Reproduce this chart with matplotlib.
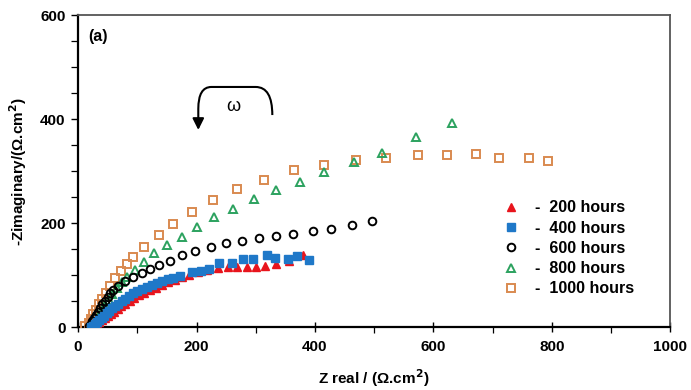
import matplotlib
matplotlib.use("Agg")
import matplotlib.pyplot as plt
from matplotlib.path import Path
from matplotlib.patches import PathPatch, FancyArrowPatch
from matplotlib.ticker import MultipleLocator

plt.rcParams['font.family'] = ['Liberation Sans', 'DejaVu Sans']
plt.rcParams['font.weight'] = 'bold'

# ---- data (Z real, -Z imaginary) in ohm.cm2 ----
x_200 = [20, 24, 28, 32, 36, 40, 45, 50, 55, 61, 67, 73, 80, 87, 95, 103, 112, 121, 131, 141,
         152, 163, 175, 188, 202, 218, 236, 253, 269, 285, 301, 316, 334, 357, 380]
y_200 = [0, 2, 4, 7, 10, 13, 17, 21, 25, 30, 35, 40, 45, 50, 56, 61, 66, 71, 76, 81,
         86, 91, 96, 101, 106, 110, 114, 116, 116, 116, 116, 118, 121, 128, 139]

x_400 = [22, 25, 28, 32, 36, 40, 44, 48, 53, 58, 63, 68, 74, 80, 86, 93, 100, 108, 117, 125,
         133, 142, 151, 160, 172, 193, 208, 221, 238, 260, 279, 296, 319, 333, 355, 370, 390]
y_400 = [0, 3, 6, 10, 14, 18, 22, 27, 31, 36, 40, 45, 50, 55, 60, 65, 69, 73, 77, 81,
         85, 89, 92, 95, 99, 106, 108, 112, 124, 124, 132, 132, 138, 134, 132, 136, 129]

x_600 = [18, 21, 24, 27, 30, 33, 37, 41, 45, 50, 54, 59, 68, 79, 93, 108, 122, 137, 155, 176,
         198, 225, 250, 277, 306, 334, 363, 397, 427, 463, 497]
y_600 = [2, 6, 12, 18, 24, 30, 37, 44, 51, 58, 65, 72, 79, 88, 97, 104, 111, 119, 128, 139,
         147, 155, 162, 166, 171, 175, 179, 185, 188, 196, 204]

x_800 = [22, 25, 28, 32, 36, 41, 46, 52, 58, 66, 74, 83, 96, 111, 128, 150, 176, 201, 230, 262,
         297, 334, 374, 416, 466, 514, 571, 632]
y_800 = [0, 3, 8, 15, 23, 32, 42, 53, 63, 75, 86, 97, 110, 126, 143, 158, 174, 193, 212, 227,
         246, 264, 280, 299, 318, 335, 366, 393]

x_1000 = [12, 18, 22, 26, 30, 35, 40, 47, 54, 63, 72, 82, 93, 111, 137, 160, 193, 228, 269, 314,
          365, 416, 470, 520, 574, 623, 672, 711, 762, 794]
y_1000 = [3, 8, 16, 25, 34, 44, 54, 66, 80, 95, 109, 122, 135, 154, 177, 199, 222, 245, 266, 284,
          302, 312, 322, 326, 331, 331, 333, 325, 325, 320]

labels = ['-  200 hours', '-  400 hours', '-  600 hours', '-  800 hours', '-  1000 hours']

fig = plt.figure(figsize=(6.91, 3.90), dpi=100)
ax = fig.add_axes([0.113, 0.161, 0.857, 0.800])

ax.plot(x_1000, y_1000, ls='none', marker='s', ms=6, mfc='none', mec='#d98a50', mew=1.4, label=labels[4], zorder=3)
ax.plot(x_800, y_800, ls='none', marker='^', ms=6.3, mfc='none', mec='#2ca25f', mew=1.4, label=labels[3], zorder=4)
ax.plot(x_600, y_600, ls='none', marker='o', ms=5.5, mfc='none', mec='black', mew=1.4, label=labels[2], zorder=5)
ax.plot(x_200, y_200, ls='none', marker='^', ms=5.5, mfc='#e8141c', mec='#e8141c', label=labels[0], zorder=6)
ax.plot(x_400, y_400, ls='none', marker='s', ms=5.5, mfc='#1f78c8', mec='#1f78c8', label=labels[1], zorder=7)

ax.set_xlim(0, 1000)
ax.set_ylim(0, 600)
ax.xaxis.set_major_locator(MultipleLocator(200))
ax.xaxis.set_minor_locator(MultipleLocator(100))
ax.yaxis.set_major_locator(MultipleLocator(200))
ax.yaxis.set_minor_locator(MultipleLocator(50))
ax.tick_params(axis='x', which='major', direction='inout', length=7, width=1.0, labelsize=11, pad=6)
ax.tick_params(axis='x', which='minor', direction='out', length=4, width=0.9)
ax.tick_params(axis='y', which='major', direction='out', length=5, width=1.0, labelsize=11, pad=4)
ax.tick_params(axis='y', which='minor', direction='out', length=5, width=0.9)
for lab in ax.get_xticklabels() + ax.get_yticklabels():
    lab.set_fontweight('bold')

for s in ['left', 'bottom']:
    ax.spines[s].set_color('black')
    ax.spines[s].set_linewidth(1.6)
for s in ['top', 'right']:
    ax.spines[s].set_color('#555555')
    ax.spines[s].set_linewidth(1.3)

ax.set_xlabel('Z real / (\u03a9.cm$^{\\mathbf{2}}$)', fontsize=11, fontweight='bold', labelpad=9)
ax.set_ylabel('-Zimaginary/(\u03a9.cm$^{\\mathbf{2}}$)', fontsize=11, fontweight='bold', labelpad=8)

ax.text(0.018, 0.955, '(a)', transform=ax.transAxes, fontsize=11.5, fontweight='bold', va='top', ha='left')

# legend in custom order
h, l = ax.get_legend_handles_labels()
order = [labels.index(t) for t in l]
pairs = sorted(zip(order, h, l))
leg = ax.legend([p[1] for p in pairs], [p[2] for p in pairs], loc='center left',
                bbox_to_anchor=(0.704, 0.2525), frameon=False, fontsize=11.5,
                handletextpad=1.0, labelspacing=0.33, handlelength=1.0, borderpad=0)
for t in leg.get_texts():
    t.set_fontweight('bold')

# omega rotation arrow
verts = [(328, 408), (328, 462), (300, 462), (275, 462),
         (250, 462), (225, 462), (203, 462), (203, 420), (203, 395)]
codes = [Path.MOVETO, Path.CURVE3, Path.CURVE3, Path.LINETO,
         Path.LINETO, Path.LINETO, Path.CURVE3, Path.CURVE3, Path.LINETO]
ax.add_patch(PathPatch(Path(verts, codes), fill=False, lw=1.5, color='black', zorder=8))
ax.add_patch(FancyArrowPatch((203, 400), (203, 374), arrowstyle='-|>', mutation_scale=17,
                             color='black', lw=1.5, zorder=8))
ax.text(262, 424, '\u03c9', fontsize=13, ha='center', va='center', fontweight='normal')

fig.savefig('out.png', dpi=100)
